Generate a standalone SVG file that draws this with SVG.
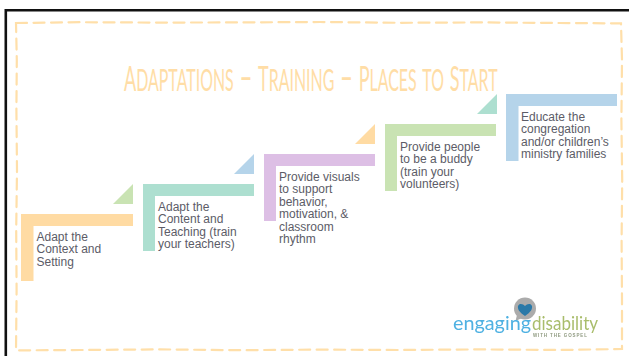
<svg xmlns="http://www.w3.org/2000/svg" width="629" height="356" viewBox="0 0 629 356">
<style>
.lbl{font-family:"Liberation Sans",Arial,sans-serif;font-size:12px;fill:#5C5C67}
.title{font-family:"Lato","Liberation Sans",sans-serif;font-weight:400;font-size:42px;font-variant:small-caps;fill:#FFDDA6}
.cap{font-size:34px}
.dash{fill:none;stroke:#FFDFA9;stroke-width:2.2;stroke-linecap:round;stroke-dasharray:11 6.5}
.orange{fill:#FFDBA3}.teal{fill:#ADDFD0}.purple{fill:#DDBFE5}.green{fill:#C9E3B3}.blue{fill:#B5D4EA}
.logo{font-family:"Lato","Liberation Sans",sans-serif;font-size:20px}
</style>
<defs><filter id="soft" x="-5%" y="-5%" width="110%" height="110%"><feGaussianBlur stdDeviation="0.4"/></filter></defs>
<rect width="629" height="356" fill="#fff"/>
<g id="frame">
<path d="M5.800 356V10.300H629" fill="none" stroke="#111" stroke-width="2.600"/>
</g>
<g id="dashed-border">
<path class="dash" d="M16 23 L80 22.200 L160 22.600 L240 22.400 L320 22 L400 22.800 L480 22.400 L560 23 L621 23.400 L622 60 L621.400 120 L622.200 180 L621.600 240 L622 300 L622 349 L560 350 L480 349.400 L400 350 L320 349.600 L240 350.200 L160 349.400 L80 350 L16 350.400 L16.600 290 L16.200 230 L17 170 L16.400 110 L16.800 60 Z"/>
</g>
<g id="title">
<text class="title" transform="translate(124 91) scale(.531 1)"><tspan class="cap">A</tspan>daptations – <tspan class="cap">T</tspan>raining – <tspan class="cap">P</tspan>laces to <tspan class="cap">S</tspan>tart</text>
</g>
<g id="step-1">
<path class="orange" d="M21 214H133V226H33.500V281H21Z"/>
<text class="lbl" x="36.500" y="241">Adapt the</text>
<text class="lbl" x="36.500" y="253.300">Context and</text>
<text class="lbl" x="36.500" y="266">Setting</text>
</g>
<g id="arrow-1"><path class="green" d="M113 204L133 184V204Z"/></g>
<g id="step-2">
<path class="teal" d="M143 184H254V196H155V251H143Z"/>
<text class="lbl" x="158" y="211">Adapt the</text>
<text class="lbl" x="158" y="223.300">Content and</text>
<text class="lbl" x="158" y="236">Teaching (train</text>
<text class="lbl" x="158" y="248.300">your teachers)</text>
</g>
<g id="arrow-2"><path class="blue" d="M234 174L254 154V174Z"/></g>
<g id="step-3">
<path class="purple" d="M264 154H375V166H276V221H264Z"/>
<text class="lbl" x="279" y="181">Provide visuals</text>
<text class="lbl" x="279" y="193.300">to support</text>
<text class="lbl" x="279" y="206">behavior,</text>
<text class="lbl" x="279" y="218.300">motivation, &amp;</text>
<text class="lbl" x="279" y="231">classroom</text>
<text class="lbl" x="279" y="243.300">rhythm</text>
</g>
<g id="arrow-3"><path class="orange" d="M355 144L375 124V144Z"/></g>
<g id="step-4">
<path class="green" d="M385 124H496V136H397V191H385Z"/>
<text class="lbl" x="400" y="151">Provide people</text>
<text class="lbl" x="400" y="163.300">to be a buddy</text>
<text class="lbl" x="400" y="176">(train your</text>
<text class="lbl" x="400" y="188.300">volunteers)</text>
</g>
<g id="arrow-4"><path class="teal" d="M477 114L497 94V114Z"/></g>
<g id="step-5">
<path class="blue" d="M506 94H617V106H518.500V161H506Z"/>
<text class="lbl" x="521" y="121">Educate the</text>
<text class="lbl" x="521" y="133.300">congregation</text>
<text class="lbl" x="521" y="146">and/or children’s</text>
<text class="lbl" x="521" y="158.300">ministry families</text>
</g>
<g id="logo" filter="url(#soft)">
<circle cx="525" cy="308.500" r="11" fill="#ABABAB"/>
<path d="M517 315L515.500 321L522 318Z" fill="#ABABAB"/>
<path d="M525 316C519 312 517.500 309 518 306C519 303 523 303.500 525 306C527 303.500 531 303 532 306C532.500 309 531 312 525 316Z" fill="#2A79A8"/>
<text class="logo" x="453" y="330" font-weight="400" fill="#4FB1E2" textLength="78" lengthAdjust="spacingAndGlyphs">engaging</text>
<text class="logo" x="532" y="330" font-weight="400" fill="#A9BD6C" textLength="66" lengthAdjust="spacingAndGlyphs">disability</text>
<text x="533" y="336.700" font-family="'Liberation Sans',sans-serif" font-size="4.500" font-weight="700" fill="#8F9A80" textLength="54">WITH THE GOSPEL</text>
</g>
</svg>
